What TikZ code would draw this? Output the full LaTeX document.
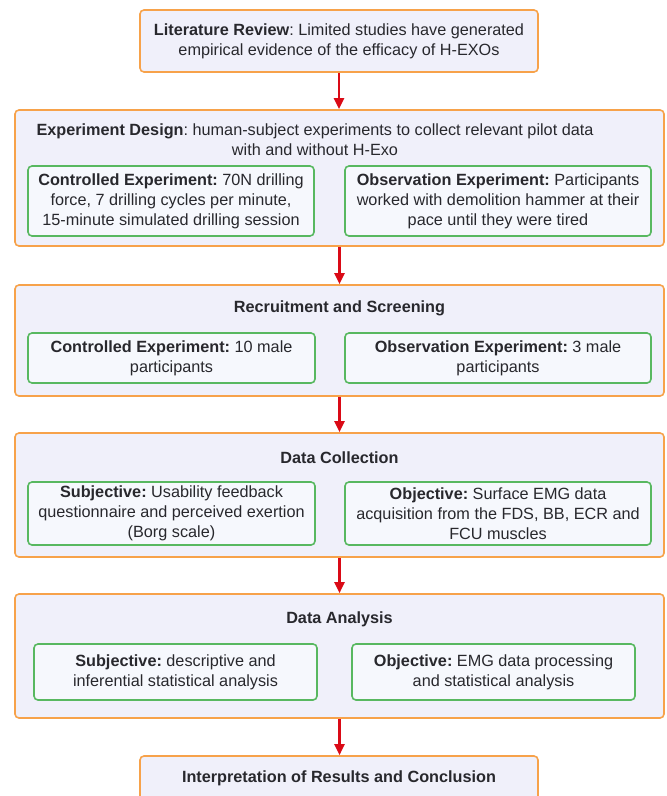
\documentclass[tikz,border=0pt]{standalone}
\usepackage{fontspec}
\setmainfont{Liberation Sans}
\frenchspacing
\usetikzlibrary{arrows.meta, positioning}
\definecolor{boxorange}{RGB}{247,162,74}
\definecolor{boxfill}{RGB}{240,240,250}
\definecolor{subgreen}{RGB}{88,184,96}
\definecolor{subfill}{RGB}{246,248,253}
\definecolor{arrowred}{RGB}{218,10,22}
\definecolor{txtcol}{RGB}{40,40,45}
\newcommand{\fsz}{\fontsize{16.3}{20}\selectfont}
\tikzset{
  stage/.style={rectangle, draw=boxorange, fill=boxfill, line width=1.6bp,
    rounded corners=4bp, inner sep=0pt, align=center, text=txtcol, font=\fsz},
  sub/.style={rectangle, draw=subgreen, fill=subfill, line width=1.6bp,
    rounded corners=4bp, inner sep=0pt, align=center, text=txtcol, font=\fsz},
  ttl/.style={inner sep=0pt, align=center, text=txtcol, font=\fsz},
  arr/.style={-{Triangle[length=11bp,width=10bp]}, line width=2.4bp, draw=arrowred},
}

\begin{document}
\begin{tikzpicture}[x=1bp, y=-1bp]
  \useasboundingbox (0,0) rectangle (667,796);
  \clip (0,0) rectangle (667,796);

  % Literature review
  \node[stage, minimum width=398bp, minimum height=62bp] (lit) at (339,41)
       {\textbf{Literature Review}: Limited studies have generated\\
        empirical evidence of the efficacy of H-EXOs};

  % Experiment design
  \node[stage, minimum width=649bp, minimum height=136bp] (design) at (339.5,178) {};
  \node[ttl] (designT) at (315,140)
       {\textbf{Experiment Design}: human-subject experiments to collect relevant pilot data\\
        with and without H-Exo};
  \node[sub, minimum width=286bp, minimum height=70bp] (designC) at (171,201)
       {\textbf{Controlled Experiment:} 70N drilling\\
        force, 7 drilling cycles per minute,\\
        15-minute simulated drilling session};
  \node[sub, minimum width=306bp, minimum height=70bp] (designO) at (498,201)
       {\textbf{Observation Experiment:} Participants\\
        worked with demolition hammer at their\\
        pace until they were tired};

  % Recruitment
  \node[stage, minimum width=649bp, minimum height=111bp] (recruit) at (339.5,340.5) {};
  \node[ttl] (recruitT) at (339.5,308) {\textbf{Recruitment and Screening}};
  \node[sub, minimum width=287bp, minimum height=50bp] (recruitC) at (171.5,358)
       {\textbf{Controlled Experiment:} 10 male\\ participants};
  \node[sub, minimum width=306bp, minimum height=50bp] (recruitO) at (498,358)
       {\textbf{Observation Experiment:} 3 male\\ participants};

  % Data collection
  \node[stage, minimum width=649bp, minimum height=124bp] (collect) at (339.5,495) {};
  \node[ttl] (collectT) at (339.5,458) {\textbf{Data Collection}};
  \node[sub, minimum width=287bp, minimum height=63bp] (collectS) at (171.5,513.5)
       {\textbf{Subjective:} Usability feedback\\
        questionnaire and perceived exertion\\
        (Borg scale)};
  \node[sub, minimum width=306bp, minimum height=63bp] (collectO) at (498,513.5)
       {\textbf{Objective:} Surface EMG data\\
        acquisition from the FDS, BB, ECR and\\
        FCU muscles};

  % Data analysis
  \node[stage, minimum width=649bp, minimum height=124bp] (analysis) at (339.5,656) {};
  \node[ttl] (analysisT) at (339.5,619) {\textbf{Data Analysis}};
  \node[sub, minimum width=283bp, minimum height=56bp] (analysisS) at (175.5,672)
       {\textbf{Subjective:} descriptive and\\ inferential statistical analysis};
  \node[sub, minimum width=283bp, minimum height=56bp] (analysisO) at (493.5,672)
       {\textbf{Objective:} EMG data processing\\ and statistical analysis};

  % Conclusion (cut by the frame)
  \node[stage, minimum width=398bp, minimum height=44bp] (concl) at (339,778)
       {\textbf{Interpretation of Results and Conclusion}};

  % Arrows
  \draw[arr] (lit.south) -- (lit.south |- design.north);
  \draw[arr] (design.south) -- (recruit.north);
  \draw[arr] (recruit.south) -- (collect.north);
  \draw[arr] (collect.south) -- (analysis.north);
  \draw[arr] (analysis.south) -- (analysis.south |- concl.north);
\end{tikzpicture}
\end{document}
